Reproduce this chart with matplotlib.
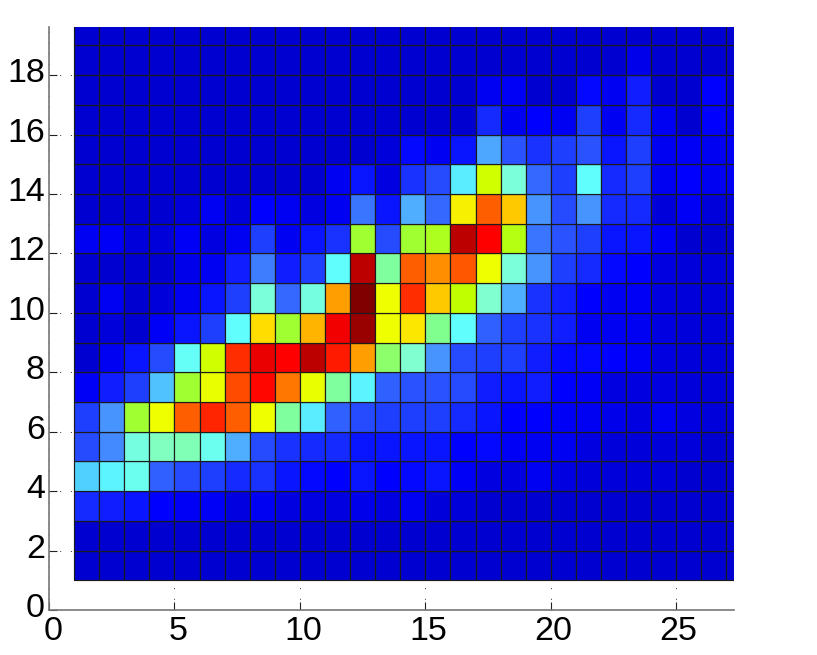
import numpy as np
import matplotlib
matplotlib.use("Agg")
import matplotlib.pyplot as plt
from matplotlib.colors import LinearSegmentedColormap
from matplotlib.transforms import ScaledTranslation

plt.rcParams['font.family'] = ['Liberation Sans', 'DejaVu Sans']

xticks = [0, 5, 10, 15, 20, 25]
yticks = [0, 2, 4, 6, 8, 10, 12, 14, 16, 18]
x_edges = list(range(1, 29))
y_edges = list(range(1, 21))

# rows bottom to top, 27 columns each
row01 = [.05] * 27
row02 = [.05] * 27
row03 = [.15, .14, .13, .11, .10, .10, .07, .09, .07, .07, .07, .08, .07, .09, .06, .06, .05, .05, .05, .05, .05, .05, .05, .05, .05, .05, .05]
row04 = [.31, .35, .38, .20, .18, .17, .15, .16, .13, .12, .11, .13, .11, .12, .13, .10, .07, .07, .09, .07, .06, .06, .06, .06, .05, .05, .05]
row05 = [.18, .24, .40, .43, .44, .38, .28, .18, .16, .15, .15, .13, .13, .13, .13, .11, .12, .10, .09, .09, .07, .06, .06, .06, .06, .05, .05]
row06 = [.17, .25, .55, .64, .79, .85, .79, .64, .46, .34, .20, .18, .17, .17, .17, .15, .13, .11, .11, .10, .09, .08, .07, .09, .07, .06, .06]
row07 = [.10, .14, .17, .30, .55, .63, .81, .88, .77, .63, .46, .35, .20, .19, .19, .18, .14, .13, .14, .11, .10, .07, .07, .07, .06, .06, .06]
row08 = [.05, .09, .13, .18, .37, .60, .84, .91, .89, .95, .86, .74, .50, .42, .25, .18, .17, .17, .14, .12, .12, .11, .10, .07, .06, .06, .06]
row09 = [.05, .06, .05, .10, .13, .17, .36, .68, .55, .72, .90, .98, .64, .67, .47, .36, .20, .17, .16, .14, .09, .09, .09, .07, .06, .06, .06]
row10 = [.05, .09, .05, .06, .09, .13, .17, .41, .21, .40, .74, 1.0, .64, .84, .70, .58, .42, .28, .16, .14, .11, .09, .10, .07, .06, .06, .06]
row11 = [.05, .05, .05, .05, .08, .09, .14, .23, .14, .17, .36, .95, .46, .79, .75, .80, .64, .41, .25, .17, .15, .12, .11, .07, .06, .06, .06]
row12 = [.09, .10, .06, .06, .10, .07, .09, .17, .09, .13, .16, .55, .18, .55, .56, .95, .89, .57, .22, .19, .17, .13, .13, .10, .05, .05, .05]
row13 = [.05, .05, .05, .05, .06, .09, .06, .11, .09, .07, .09, .22, .13, .28, .21, .66, .79, .70, .25, .18, .25, .15, .15, .06, .10, .06, .06]
row14 = [.05, .05, .05, .05, .05, .05, .05, .05, .05, .05, .09, .13, .07, .16, .18, .34, .60, .41, .21, .17, .36, .15, .17, .09, .11, .09, .09]
row15 = [.05, .05, .05, .05, .05, .05, .05, .05, .05, .05, .05, .05, .06, .12, .09, .13, .27, .19, .16, .17, .19, .13, .17, .09, .10, .09, .09]
row16 = [.05, .05, .05, .05, .05, .05, .05, .05, .05, .05, .05, .05, .05, .05, .05, .05, .15, .09, .11, .09, .17, .09, .15, .09, .05, .11, .08]
row17 = [.05, .05, .05, .05, .05, .05, .05, .05, .05, .05, .05, .05, .05, .05, .05, .05, .09, .10, .05, .05, .12, .09, .14, .05, .05, .11, .06]
row18 = [.05, .05, .05, .05, .05, .05, .05, .05, .05, .05, .05, .05, .05, .05, .05, .05, .05, .05, .05, .05, .05, .05, .08, .05, .05, .05, .05]
row19 = [.05] * 27
values = np.array([row01, row02, row03, row04, row05, row06, row07, row08, row09, row10,
                   row11, row12, row13, row14, row15, row16, row17, row18, row19])

cmap_stops = [0.0, .05, .07, .11, .14, .17, .20, .23, .28, .31, .36, .42, .47, .55, .58,
              .64, .68, .74, .79, .84, .89, .95, 1.0]
cmap_colors = ['#0000b8', '#0000d2', '#0000e4', '#0000ff', '#1020ff', '#2040ff', '#3060ff',
               '#4080ff', '#50b0ff', '#50d0ff', '#60ffff', '#80ffd0', '#80ff90', '#a0ff30',
               '#c0ff00', '#f0ff00', '#ffe000', '#ffa000', '#ff6000', '#ff3000', '#ff0000',
               '#c00000', '#800000']
cmap = LinearSegmentedColormap.from_list('jet_light', list(zip(cmap_stops, cmap_colors)), N=256)

W, H = 817, 655
fig = plt.figure(figsize=(W / 100, H / 100), dpi=100)
ax = fig.add_axes([49 / W, 1 - 610 / H, (734 - 49) / W, (610 - 27) / H])

ax.pcolormesh(x_edges, y_edges, values, cmap=cmap, vmin=0, vmax=1,
              edgecolors='#1c1c1c', linewidth=0.85, antialiased=True, zorder=3)

ax.set_xlim(0, 27.3)
ax.set_ylim(0, 19.62)
ax.set_xticks(xticks)
ax.set_yticks(yticks)
ax.set_axisbelow(True)
ax.grid(True, color='#333333', linewidth=0.7, linestyle=(0, (1, 10)), zorder=1)

for side in ('top', 'right'):
    ax.spines[side].set_visible(False)
for side in ('left', 'bottom'):
    ax.spines[side].set_color('#777777')
    ax.spines[side].set_linewidth(1.2)

ax.tick_params(axis='both', direction='in', length=5.8, width=0.8, color='#222222',
               labelsize=24.5, labelcolor='black')
ax.tick_params(axis='x', pad=4.5)
ax.tick_params(axis='y', pad=3)

x_shift = [4, 4, 3, 2.5, 2, 1.5]
for lab, dx in zip(ax.get_xticklabels(), x_shift):
    lab.set_transform(lab.get_transform() + ScaledTranslation(dx / 100, 0, fig.dpi_scale_trans))
for lab in ax.get_yticklabels():
    lab.set_transform(lab.get_transform() + ScaledTranslation(0, 5 / 100, fig.dpi_scale_trans))

fig.savefig('out.png', dpi=100)
